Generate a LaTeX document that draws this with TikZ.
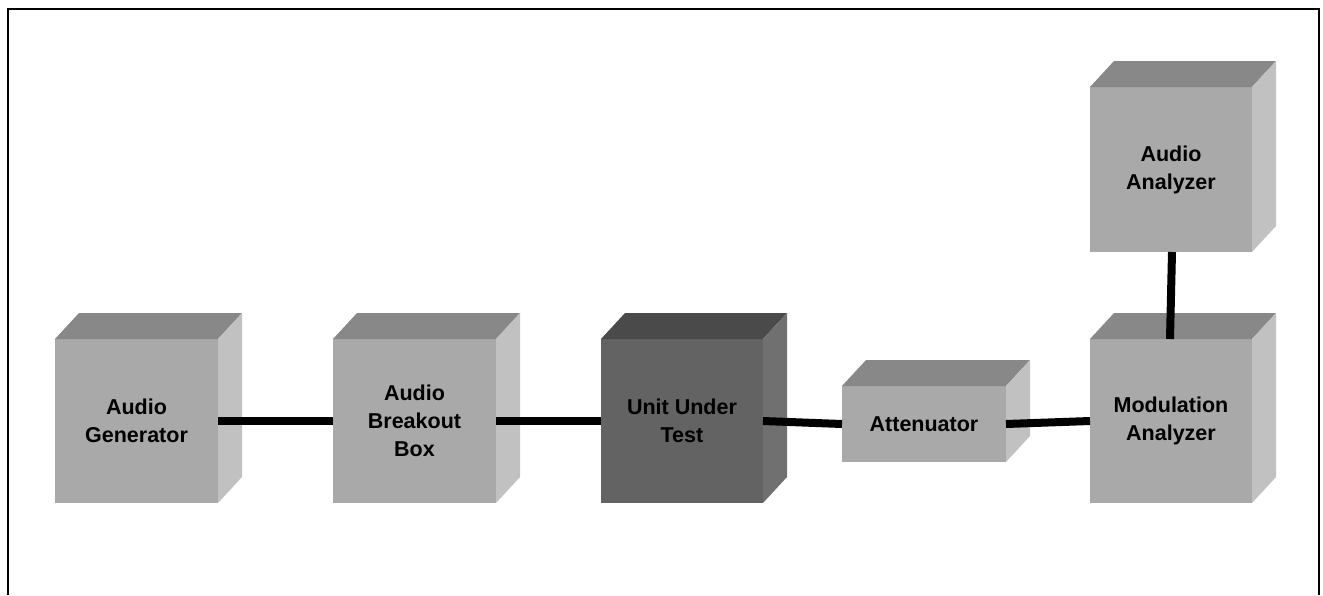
\documentclass[tikz,border=0pt]{standalone}
\usepackage{fontspec}
\setmainfont{Liberation Sans}
\usetikzlibrary{calc}

\definecolor{lightfront}{HTML}{A9A9A9}
\definecolor{lighttop}{HTML}{888888}
\definecolor{lightside}{HTML}{C1C1C1}
\definecolor{darkfront}{HTML}{636363}
\definecolor{darktop}{HTML}{4A4A4A}
\definecolor{darkside}{HTML}{707070}

\tikzset{
  face/.style={rectangle, inner sep=0pt, outer sep=0pt, align=center,
    font=\bfseries\fontsize{21.5}{28}\selectfont, text=black},
  lightcube/.style={face, fill=lightfront},
  darkcube/.style={face, fill=darkfront},
  link/.style={line width=8pt, black},
  frame/.style={line width=2.2pt, black}
}

% front face as a named node, then the top and right faces in depth
\newcommand\drawcube[7]{% name, position, width, height, style, text, shade prefix
  \node[#5, minimum width=#3pt, minimum height=#4pt] (#1) at (#2) {#6};
  \fill[#7top] (#1.north west) -- ++(24,-26) -- ($(#1.north east)+(24,-26)$)
    -- (#1.north east) -- cycle;
  \fill[#7side] (#1.north east) -- ++(24,-26) -- ($(#1.south east)+(24,-26)$)
    -- (#1.south east) -- cycle;
}

\begin{document}
\begin{tikzpicture}[x=1pt, y=-1pt]
  \useasboundingbox (0,0) rectangle (1323,595);

  % open frame
  \draw[frame] (8,595) -- (8,9) -- (1319,9) -- (1319,595);

  \drawcube{ag}{136.5,421}{163}{164}{lightcube}{Audio\\Generator}{light}
  \drawcube{abb}{414.5,421}{163}{164}{lightcube}{Audio\\Breakout\\Box}{light}
  \drawcube{uut}{682,421}{162}{164}{darkcube}{Unit Under\\Test}{dark}
  \drawcube{att}{924,424}{164}{76}{lightcube}{Attenuator}{light}
  \drawcube{ma}{1171,421}{162}{164}{lightcube}{Modulation\\Analyzer}{light}
  \drawcube{aa}{1171,169.5}{162}{165}{lightcube}{Audio\\Analyzer}{light}

  % cables
  \draw[link] (ag.east) -- (abb.west);
  \draw[link] (abb.east) -- (uut.west);
  \draw[link] (uut.east) -- (att.west);
  \draw[link] (att.east) -- (ma.west);
  \draw[link] ([xshift=1pt]aa.south) -- ([xshift=-1pt]ma.north);
\end{tikzpicture}
\end{document}
